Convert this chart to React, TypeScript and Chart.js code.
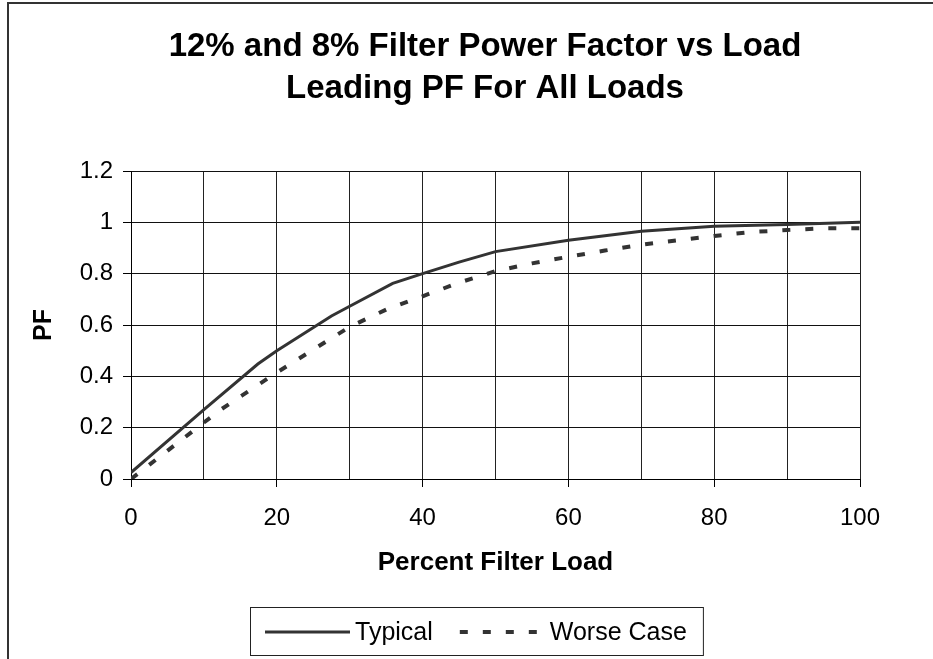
import React, { useEffect, useRef } from "react";
import { Chart, registerables } from "chart.js";

Chart.register(...registerables);

const titleLines = ["12% and 8% Filter Power Factor vs Load", "Leading PF For All Loads"];
const xAxisTitle = "Percent Filter Load";
const yAxisTitle = "PF";
const seriesNames = ["Typical", "Worse Case"];

const typicalLoad = [0, 10, 17.4, 20, 27.5, 30, 35.9, 40, 45, 50, 60, 70, 75, 80, 90, 100];
const typicalPF = [0.025, 0.27, 0.448, 0.5, 0.635, 0.673, 0.762, 0.8, 0.845, 0.886, 0.93, 0.965, 0.975, 0.985, 0.992, 1.0];

const worseLoad = [0, 10, 12.4, 15.2, 20, 30, 35, 40, 45, 50, 55, 60, 65, 70, 75, 80, 85, 90, 95, 100];
const worsePF = [0, 0.22, 0.272, 0.325, 0.415, 0.593, 0.66, 0.712, 0.765, 0.81, 0.84, 0.866, 0.89, 0.913, 0.93, 0.947, 0.962, 0.97, 0.977, 0.977];

const xRange = [0, 100];
const xGridStep = 10;
const xLabelStep = 20;
const yRange = [0, 1.2];
const yStep = 0.2;

const FONT = '"Liberation Sans", Arial, sans-serif';
const LINE_COLOR = "#333333";

const decorPlugin = {
  id: "decor",
  beforeDraw(chart: any) {
    const ctx = chart.ctx;
    ctx.save();
    ctx.fillStyle = "#ffffff";
    ctx.fillRect(0, 0, chart.width, chart.height);
    ctx.strokeStyle = "#333333";
    ctx.lineWidth = 2;
    ctx.strokeRect(8, 3, chart.width + 20, chart.height + 20);
    ctx.restore();
  },
  afterDraw(chart: any) {
    const ctx = chart.ctx;
    ctx.save();
    // Title
    ctx.fillStyle = "#000";
    ctx.font = `bold 33px ${FONT}`;
    ctx.textAlign = "center";
    ctx.textBaseline = "middle";
    titleLines.forEach((t, i) => ctx.fillText(t, 485, 47 + i * 42));

    // Legend
    ctx.font = `25px ${FONT}`;
    ctx.textAlign = "left";
    const lx = 250;
    const ly = 607;
    const lh = 48;
    const cy = ly + lh / 2 + 1;
    const ds = chart.data.datasets;
    let x = lx + 15;
    const sampleLens = [85, 78];
    const gapAfterSample = [5, 12];
    ds.forEach((d: any, i: number) => {
      ctx.strokeStyle = d.borderColor;
      ctx.lineWidth = d.borderWidth;
      ctx.setLineDash(d.borderDash || []);
      ctx.beginPath();
      ctx.moveTo(x, cy);
      ctx.lineTo(x + sampleLens[i], cy);
      ctx.stroke();
      ctx.setLineDash([]);
      x += sampleLens[i] + gapAfterSample[i];
      ctx.fillStyle = "#000";
      ctx.fillText(d.label, x, cy + 1);
      x += ctx.measureText(d.label).width;
      if (i < ds.length - 1) x += 27;
    });
    const lw = x + 16 - lx;
    ctx.strokeStyle = "#222";
    ctx.lineWidth = 1;
    ctx.strokeRect(lx + 0.5, ly + 0.5, lw, lh);
    ctx.restore();
  },
};

export default function App() {
  const ref = useRef<HTMLCanvasElement | null>(null);
  useEffect(() => {
    if (!ref.current) return;
    const chart = new Chart(ref.current, {
      type: "line",
      data: {
        datasets: [
          {
            label: seriesNames[0],
            data: typicalLoad.map((x, i) => ({ x, y: typicalPF[i] })),
            borderColor: LINE_COLOR,
            borderWidth: 3,
            pointRadius: 0,
            tension: 0,
            fill: false,
          },
          {
            label: seriesNames[1],
            data: worseLoad.map((x, i) => ({ x, y: worsePF[i] })),
            borderColor: LINE_COLOR,
            borderWidth: 4,
            borderDash: [8, 15],
            borderCapStyle: "butt",
            pointRadius: 0,
            tension: 0,
            fill: false,
          },
        ],
      },
      options: {
        responsive: false,
        animation: false,
        devicePixelRatio: 1,
        layout: { padding: { left: 29, right: 73, top: 171, bottom: 60 } },
        plugins: {
          legend: { display: false },
          title: { display: false },
          tooltip: { enabled: false },
        },
        scales: {
          x: {
            type: "linear",
            min: xRange[0],
            max: xRange[1],
            afterFit: (s: any) => {
              s.height = 120;
            },
            ticks: {
              stepSize: xGridStep,
              autoSkip: false,
              maxRotation: 0,
              padding: 17,
              color: "#000",
              font: { family: FONT, size: 24 },
              callback: (v: any) => (Number(v) % xLabelStep === 0 ? String(v) : ""),
            },
            grid: {
              color: "#222",
              lineWidth: 1,
              tickLength: 8,
              tickColor: (c: any) =>
                c.tick && Math.round(c.tick.value) % xLabelStep === 0 ? "#000" : "rgba(0,0,0,0)",
            },
            border: { color: "#000", width: 1 },
            title: {
              display: true,
              text: xAxisTitle,
              color: "#000",
              font: { family: FONT, size: 26, weight: "bold" },
              padding: { top: 0, bottom: 21 },
            },
          },
          y: {
            type: "linear",
            min: yRange[0],
            max: yRange[1],
            afterFit: (s: any) => {
              s.width = 102;
            },
            ticks: {
              stepSize: yStep,
              padding: 10,
              color: "#000",
              font: { family: FONT, size: 24 },
              callback: (v: any) => String(parseFloat(Number(v).toFixed(1))),
            },
            grid: { color: "#111", lineWidth: 1, tickLength: 8, tickColor: "#000" },
            border: { color: "#000", width: 1 },
            title: {
              display: true,
              text: yAxisTitle,
              color: "#000",
              font: { family: FONT, size: 25, weight: "bold" },
              padding: { top: 0, bottom: 0 },
            },
          },
        },
      },
      plugins: [decorPlugin],
    } as any);
    return () => chart.destroy();
  }, []);
  return (
    <div style={{ position: "absolute", left: 0, top: 0, width: 933, height: 659 }}>
      <canvas ref={ref} width={933} height={659} style={{ display: "block", width: 933, height: 659 }} />
    </div>
  );
}
